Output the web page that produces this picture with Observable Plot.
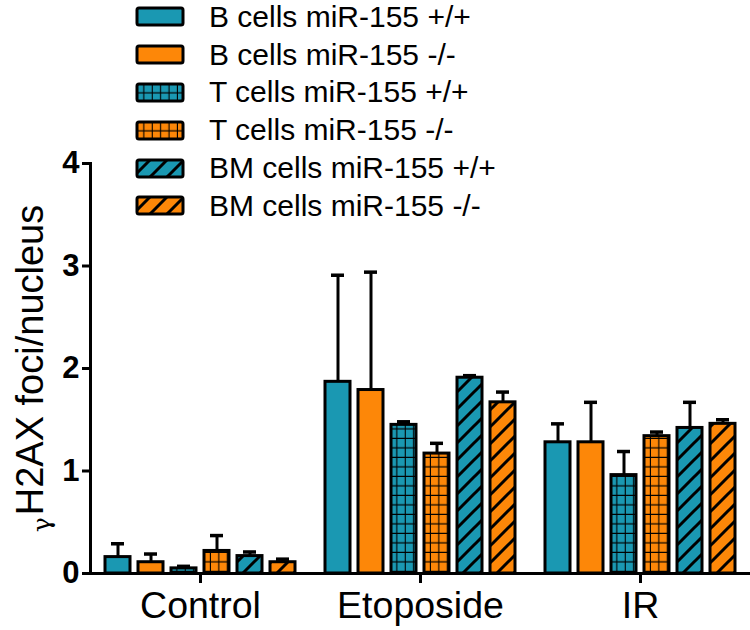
<!DOCTYPE html>
<html><head><meta charset="utf-8">
<script src="https://cdn.jsdelivr.net/npm/d3@7"></script>
<script src="https://cdn.jsdelivr.net/npm/@observablehq/plot@0.6"></script>
<style>
body{margin:0;background:#fff;font-family:"Liberation Sans",Arial,sans-serif;}
#wrap{position:relative;width:750px;height:630px;}
#legend{position:absolute;left:135px;top:-2px;}
.row{display:flex;align-items:center;height:37.8px;font-size:30px;line-height:24px;color:#000;white-space:nowrap;}
.row svg{margin-right:24px;flex:none;}
#defs{position:absolute;width:0;height:0;}
</style></head><body>
<svg id="defs" width="0" height="0"><defs></defs></svg>
<div id="wrap"><div id="legend"></div></div>
<script>
const groups = ["Control", "Etoposide", "IR"];
const series = ["B cells miR-155 +/+", "B cells miR-155 -/-", "T cells miR-155 +/+", "T cells miR-155 -/-", "BM cells miR-155 +/+", "BM cells miR-155 -/-"];
const controlMeans = [0.16, 0.11, 0.05, 0.22, 0.17, 0.11];
const controlErrors = [0.13, 0.08, 0.02, 0.15, 0.04, 0.03];
const etoposideMeans = [1.87, 1.79, 1.45, 1.17, 1.91, 1.67];
const etoposideErrors = [1.04, 1.15, 0.03, 0.10, 0.02, 0.10];
const irMeans = [1.28, 1.28, 0.96, 1.34, 1.42, 1.46];
const irErrors = [0.18, 0.39, 0.23, 0.04, 0.25, 0.04];
const yTicks = [0, 1, 2, 3, 4];
const yLabelGreek = "γ";
const yLabelRest = "H2AX foci/nucleus";
const yLabel = yLabelGreek + yLabelRest;

const TEAL = "#1a98b2", ORANGE = "#fd8708";
const seriesFills = [TEAL, ORANGE, "url(#gridTeal)", "url(#gridOrange)", "url(#hatchTeal)", "url(#hatchOrange)"];

// patterns
const defs = d3.select("#defs defs");
function grid(id, color) {
  const p = defs.append("pattern").attr("id", id).attr("patternUnits", "userSpaceOnUse")
    .attr("width", 8.4).attr("height", 9.5).attr("x", 1).attr("y", 2);
  p.append("rect").attr("width", 8.4).attr("height", 9.5).attr("fill", color);
  p.append("path").attr("d", "M8.4,0V9.5M0,9.5H8.4").attr("stroke", "#000").attr("stroke-width", 2.2).attr("fill", "none");
}
function hatch(id, color) {
  const w = 17;
  const p = defs.append("pattern").attr("id", id).attr("patternUnits", "userSpaceOnUse")
    .attr("width", w).attr("height", w);
  p.append("rect").attr("width", w).attr("height", w).attr("fill", color);
  p.append("path").attr("d", `M0,${w}L${w},0M-3,3L3,-3M${w - 3},${w + 3}L${w + 3},${w - 3}`)
    .attr("stroke", "#000").attr("stroke-width", 3).attr("fill", "none");
}
grid("gridTeal", TEAL); grid("gridOrange", ORANGE);
hatch("hatchTeal", TEAL); hatch("hatchOrange", ORANGE);

const data = [];
[[controlMeans, controlErrors], [etoposideMeans, etoposideErrors], [irMeans, irErrors]].forEach(([m, e], gi) => {
  series.forEach((s, i) => data.push({group: groups[gi], series: s, mean: m[i], top: m[i] + e[i]}));
});

const chart = Plot.plot({
  width: 750, height: 630,
  marginLeft: 90, marginRight: 0, marginTop: 163, marginBottom: 57,
  style: {fontFamily: "'Liberation Sans', Arial, sans-serif", color: "#000", background: "transparent"},
  fx: {domain: groups, padding: 0, label: null},
  x: {domain: series, paddingInner: 0.24, paddingOuter: 0.45, axis: null},
  y: {domain: [0, 4], label: null, axis: null},
  color: {domain: series, range: seriesFills},
  marks: [
    Plot.ruleX(data, {fx: "group", x: "series", y1: "mean", y2: "top", stroke: "#000", strokeWidth: 3}),
    Plot.tickY(data, {fx: "group", x: "series", y: "top", stroke: "#000", strokeWidth: 3.5, insetLeft: 6, insetRight: 6}),
    Plot.barY(data, {fx: "group", x: "series", y: "mean", fill: "series", stroke: "#000", strokeWidth: 3}),
    Plot.ruleY([0], {stroke: "#000", strokeWidth: 3}),
    Plot.frame({anchor: "left", facetAnchor: "left", stroke: "#000", strokeWidth: 3}),
    Plot.axisY({ticks: yTicks, tickFormat: d3.format("d"), tickSize: 8, tickPadding: 3, strokeWidth: 3, fontSize: 31, fontWeight: "bold", label: null}),
    Plot.axisFx({anchor: "bottom", tickSize: 10, tickPadding: 8, strokeWidth: 3, fontSize: 37.5, label: null}),
    Plot.text([yLabel], {frameAnchor: "left", textAnchor: "middle", rotate: -90, dx: -60, fontSize: 38, facetAnchor: "left", text: d => d})
  ]
});
document.getElementById("wrap").prepend(chart);

// smaller, lowered gamma as in the reference
d3.select(chart).selectAll("text").filter(function() { return this.textContent === yLabel; }).each(function() {
  const t = d3.select(this);
  t.text(null);
  t.append("tspan").attr("font-size", 25).attr("font-family", "'DejaVu Serif', serif").attr("dy", 7).text(yLabelGreek);
  t.append("tspan").attr("dy", -7).attr("dx", 2).text(yLabelRest);
});

// legend
const legend = d3.select("#legend");
series.forEach((s, i) => {
  const row = legend.append("div").attr("class", "row");
  const sv = row.append("svg").attr("width", 50).attr("height", 21);
  sv.append("rect").attr("x", 2).attr("y", 2).attr("width", 46).attr("height", 17).attr("rx", 2)
    .attr("fill", seriesFills[i]).attr("stroke", "#000").attr("stroke-width", 3);
  row.append("span").text(s);
});
</script>
</body></html>
